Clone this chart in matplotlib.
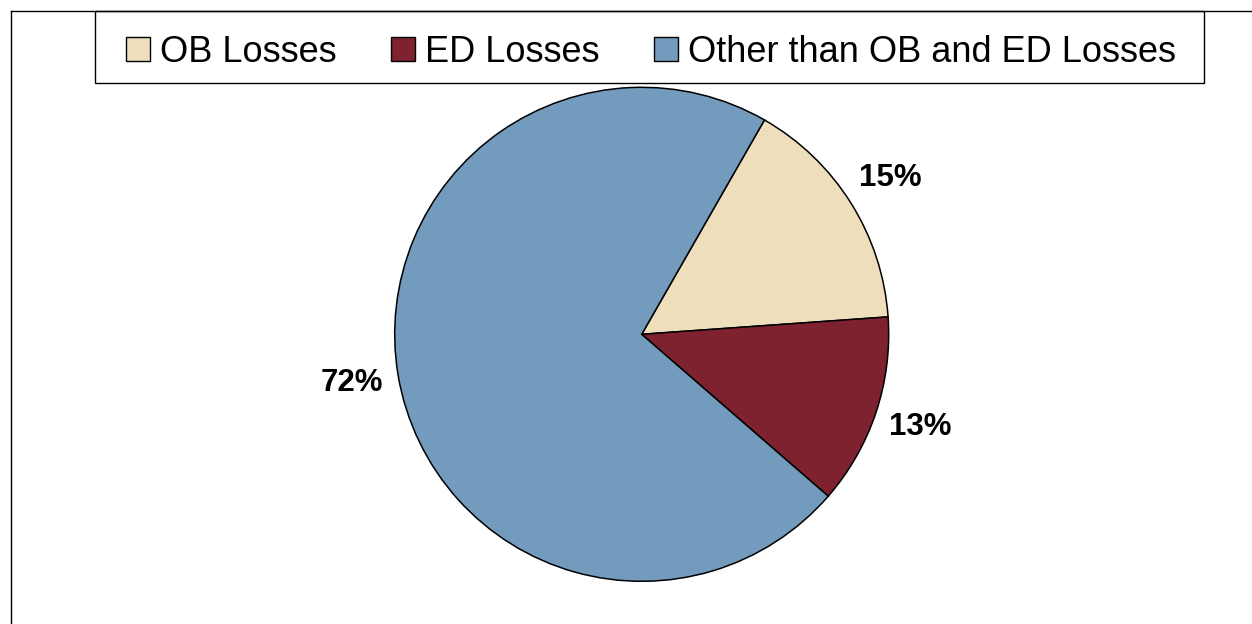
import matplotlib.pyplot as plt
from matplotlib.patches import Patch, Rectangle
from matplotlib.lines import Line2D

labels = ['OB Losses', 'ED Losses', 'Other than OB and ED Losses']
shares = [15.6, 12.5, 71.9]
pct_labels = ['15%', '13%', '72%']
colors = ['#EFDEBB', '#7E2230', '#739BBE']

plt.rcParams['font.family'] = ['Liberation Sans', 'DejaVu Sans']

W, H = 1252, 624
fig = plt.figure(figsize=(W / 100, H / 100), dpi=100)

# pie axes: center (641.7, 334.3) px, radius 247 px
cx, cy, r = 641.7, 334.3, 247
ax = fig.add_axes([(cx - r) / W, (H - cy - r) / H, 2 * r / W, 2 * r / H])
lab_iter = iter(pct_labels)
wedges, texts, autotexts = ax.pie(
    shares, colors=colors, startangle=60.2, counterclock=False,
    autopct=lambda p: next(lab_iter), pctdistance=1.19,
    wedgeprops=dict(edgecolor='black', linewidth=1.1),
    textprops=dict(fontsize=22.5, fontweight='bold', color='black'))
ax.set_xlim(-1, 1)
ax.set_ylim(-1, 1)
ax.set_aspect('equal')
ax.axis('off')

# outer chart frame (only top and left visible)
fig.add_artist(Line2D([11 / W, 1], [1 - 11 / H, 1 - 11 / H], color='black', lw=1.0))
fig.add_artist(Line2D([11 / W, 11 / W], [0, 1 - 11 / H], color='black', lw=1.0))

# legend box
fig.add_artist(Rectangle((95 / W, 1 - 83 / H), (1204 - 95) / W, 72 / H,
                         transform=fig.transFigure, fill=False,
                         edgecolor='black', lw=1.0))

handles = [Patch(facecolor=c, edgecolor='black', linewidth=1.0) for c in colors]
fig.legend(handles, labels, loc='center', bbox_to_anchor=(651 / W, 1 - 52 / H),
           ncol=3, frameon=False, fontsize=26, handlelength=0.66,
           handleheight=0.66, handletextpad=0.28, columnspacing=1.5,
           borderpad=0, borderaxespad=0)

fig.savefig('out.png', dpi=100)
